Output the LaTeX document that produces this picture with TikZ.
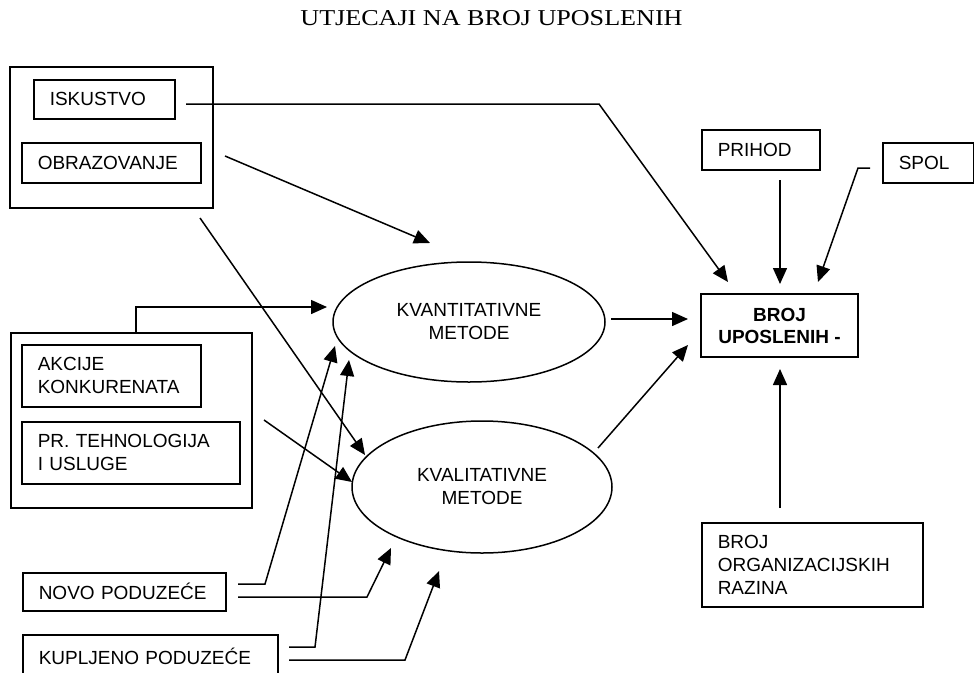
\documentclass[tikz,border=0pt]{standalone}
\usepackage{fontspec}
\setmainfont{Liberation Sans}
\newfontfamily\titlefont{Liberation Serif}
\usetikzlibrary{arrows.meta,shapes.geometric}
\tikzset{
  lw/.style={line width=1.5pt},
  txt/.style={font=\fontsize{19}{23}\selectfont},
  box/.style={draw, lw, txt, anchor=north west, inner xsep=16pt, inner ysep=0pt, align=left},
  grp/.style={draw, lw, anchor=north west, inner sep=0pt},
  oval/.style={draw, lw, txt, ellipse, inner sep=0pt, align=center},
  arr/.style={lw, -{Triangle[length=16pt,width=14pt]}},
}
\begin{document}
\begin{tikzpicture}[x=1pt,y=-1pt]
\useasboundingbox (0,0) rectangle (974,672);
\fill[white] (0,0) rectangle (974,672);

% title
\node[font=\titlefont\fontsize{22.7}{26}\selectfont, xscale=1.15, anchor=base] (title) at (491.5,25) {UTJECAJI NA BROJ UPOSLENIH};

% groups
\node[grp, minimum width=203pt, minimum height=141pt] (grp1) at (9,66) {};
\node[grp, minimum width=241pt, minimum height=175pt] (grp2) at (10,332) {};

% boxes
\node[box, text width=109pt, minimum height=39pt] (isk) at (33,79) {ISKUSTVO};
\node[box, text width=147pt, minimum height=40pt] (obr) at (21,142) {OBRAZOVANJE};
\node[box, text width=147pt, minimum height=62pt] (akc) at (21,344) {AKCIJE\\KONKURENATA};
\node[box, text width=186pt, minimum height=62pt] (prt) at (21,421) {PR. TEHNOLOGIJA\\I USLUGE};
\node[box, text width=171pt, minimum height=38pt] (novo) at (22,572) {NOVO PODUZEĆE};
\node[box, text width=223pt, minimum height=44pt] (kup) at (22,634) {KUPLJENO PODUZEĆE};
\node[box, text width=86pt, minimum height=40pt] (prihod) at (701,129) {PRIHOD};
\node[box, text width=59pt, minimum height=40pt] (spol) at (882,142) {SPOL};
\node[box, text width=189pt, minimum height=84pt] (org) at (701,522) {BROJ\\ORGANIZACIJSKIH\\RAZINA};
\node[draw, lw, font=\fontsize{19}{22}\selectfont\bfseries, align=center, minimum width=157pt, minimum height=63pt, inner sep=0pt] (broj) at (779.5,325.5) {BROJ\\UPOSLENIH -};

% ellipses
\node[oval, minimum width=272pt, minimum height=120pt] (kvant) at (469,322) {KVANTITATIVNE\\METODE};
\node[oval, minimum width=260pt, minimum height=132pt] (kval) at (482,487) {KVALITATIVNE\\METODE};

% connector points
\coordinate (iskO) at (186,104);   \coordinate (iskB) at (599,104);   \coordinate (iskT) at (728,282);
\coordinate (obrO) at (225,156);   \coordinate (obrT) at (430,243);
\coordinate (g1O) at (200,218);    \coordinate (g1T) at (365,455);
\coordinate (g2O) at (136,332);    \coordinate (g2B) at (136,307);    \coordinate (g2T) at (327,307);
\coordinate (prtO) at (264,420);   \coordinate (prtT) at (352,482);
\coordinate (nvO1) at (238,584);   \coordinate (nvB1) at (265,584);   \coordinate (nvT1) at (335,346);
\coordinate (nvO2) at (238,597);   \coordinate (nvB2) at (367,597);   \coordinate (nvT2) at (391,548);
\coordinate (kpO1) at (289,647);   \coordinate (kpB1) at (315,647);   \coordinate (kpT1) at (349,360);
\coordinate (kpO2) at (289,660);   \coordinate (kpB2) at (405,660);   \coordinate (kpT2) at (439,571);
\coordinate (knO) at (611,319);    \coordinate (knT) at (688,319);
\coordinate (klO) at (598,448);    \coordinate (klT) at (688,345);
\coordinate (prO) at (780,180);    \coordinate (prT) at (780,284);
\coordinate (spO) at (870,168);    \coordinate (spB) at (858,168);    \coordinate (spT) at (818,282);
\coordinate (orO) at (780,508);    \coordinate (orT) at (780,369);

% connectors
\draw[arr] (iskO) -- (iskB) -- (iskT);
\draw[arr] (obrO) -- (obrT);
\draw[arr] (g1O) -- (g1T);
\draw[arr] (g2O) -- (g2B) -- (g2T);
\draw[arr] (prtO) -- (prtT);
\draw[arr] (nvO1) -- (nvB1) -- (nvT1);
\draw[arr] (nvO2) -- (nvB2) -- (nvT2);
\draw[arr] (kpO1) -- (kpB1) -- (kpT1);
\draw[arr] (kpO2) -- (kpB2) -- (kpT2);
\draw[arr] (knO) -- (knT);
\draw[arr] (klO) -- (klT);
\draw[arr] (prO) -- (prT);
\draw[arr] (spO) -- (spB) -- (spT);
\draw[arr] (orO) -- (orT);
\end{tikzpicture}
\end{document}
